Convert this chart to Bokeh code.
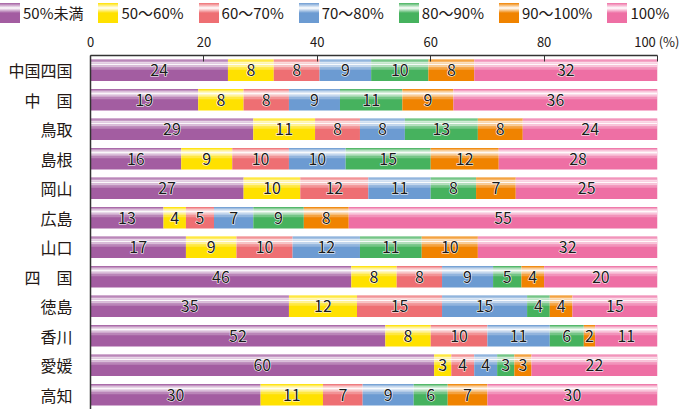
from bokeh.plotting import figure
from bokeh.layouts import column
from bokeh.models import FactorRange, ColumnDataSource, FixedTicker, Div
from bokeh.transform import dodge
from bokeh.core.properties import value
from bokeh.embed import file_html
from bokeh.resources import INLINE

rows = ["中国四国", "中　国", "鳥取", "島根", "岡山", "広島", "山口",
        "四　国", "徳島", "香川", "愛媛", "高知"]
series_names = ["50%未満", "50〜60%", "60〜70%", "70〜80%", "80〜90%", "90〜100%", "100%"]
s_lt50 = [24, 19, 29, 16, 27, 13, 17, 46, 35, 52, 60, 30]
s_50_60 = [8, 8, 11, 9, 10, 4, 9, 8, 12, 8, 3, 11]
s_60_70 = [8, 8, 8, 10, 12, 5, 10, 8, 15, 10, 4, 7]
s_70_80 = [9, 9, 8, 10, 11, 7, 12, 9, 15, 11, 4, 9]
s_80_90 = [10, 11, 13, 15, 8, 9, 11, 5, 4, 6, 3, 6]
s_90_100 = [8, 9, 8, 12, 7, 8, 10, 4, 4, 2, 3, 7]
s_100 = [32, 36, 24, 28, 25, 55, 32, 20, 15, 11, 22, 30]
x_ticks = [0, 20, 40, 60, 80, 100]
x_tick_labels = ["0", "20", "40", "60", "80", "100 (%)"]

series = [s_lt50, s_50_60, s_60_70, s_70_80, s_80_90, s_90_100, s_100]
colors = ["#A35DA1", "#FFE100", "#EE6F73", "#6C9BD2", "#46B25E", "#F08300", "#EE6FA4"]

FONT = "Noto Sans CJK JP"
TXT = "#231815"
BAR_H = 0.73
W = 679
LEG_H = 28

p = figure(width=W, height=409 - LEG_H, output_backend="svg", toolbar_location=None,
           y_range=FactorRange(*rows[::-1], range_padding=0),
           x_range=(0, 100), x_axis_location="above",
           min_border_left=90, min_border_right=22, min_border_top=54 - LEG_H,
           min_border_bottom=0)
p.outline_line_color = None
p.xgrid.visible = False
p.ygrid.visible = False

totals = [sum(s[i] for s in series) for i in range(len(rows))]
left = [0.0] * len(rows)
label_x, label_y, label_t = [], [], []
for name, s, c in zip(series_names, series, colors):
    lft = list(left)
    rgt = [l + v * 100.0 / t for l, v, t in zip(lft, s, totals)]
    src = ColumnDataSource(dict(y=rows, left=lft, right=rgt))
    p.hbar(y="y", left="left", right="right", height=BAR_H, source=src,
           fill_color=c, line_color=None)
    for i in range(len(rows)):
        label_x.append((lft[i] + rgt[i]) / 2)
        label_y.append(rows[i])
        label_t.append(str(s[i]))
    left = rgt

# glossy highlight across each bar
hl_src = ColumnDataSource(dict(y=rows, left=[0] * len(rows), right=left))
bands = [(0.04, 0.11, 0.35), (0.11, 0.19, 0.75), (0.19, 0.27, 0.95),
         (0.27, 0.36, 0.6), (0.36, 0.48, 0.25)]
for a, b, alpha in bands:
    center = BAR_H / 2 - (a + b) / 2 * BAR_H
    p.hbar(y=dodge("y", center, range=p.y_range), left="left", right="right",
           height=(b - a) * BAR_H, source=hl_src, fill_color="white",
           fill_alpha=alpha, line_color=None)

lab_src = ColumnDataSource(dict(x=label_x, y=label_y, t=label_t))
# white halo, then dark text on top
p.text(x="x", y="y", text="t", source=lab_src, text_align="center",
       text_baseline="middle", text_font=value(FONT), text_font_size="16px",
       text_color="white", text_outline_color="white")
p.text(x="x", y="y", text="t", source=lab_src, text_align="center",
       text_baseline="middle", text_font=value(FONT), text_font_size="16px",
       text_color="#1a1a1a")

xa = p.xaxis[0]
xa.ticker = FixedTicker(ticks=x_ticks)
xa.major_label_overrides = {t: l for t, l in zip(x_ticks, x_tick_labels)}
xa.minor_tick_line_color = None
xa.major_tick_in = 6
xa.major_tick_out = 0
xa.major_label_standoff = 5
xa.major_label_text_font = FONT
xa.major_label_text_font_size = "13px"
xa.major_label_text_color = TXT
xa.axis_line_color = "#333333"
xa.axis_line_width = 1.5
xa.major_tick_line_color = "#333333"

ya = p.yaxis[0]
ya.major_tick_line_color = None
ya.minor_tick_line_color = None
ya.major_label_standoff = 12
ya.major_label_text_font = FONT
ya.major_label_text_font_size = "16px"
ya.major_label_text_color = TXT
ya.axis_line_color = "#333333"
ya.axis_line_width = 1.5

# legend strip as HTML
items_html = []
for name, c in zip(series_names, colors):
    sw = (f'<span style="display:inline-block;width:20px;height:20px;margin-right:3px;'
          f'background:linear-gradient(to bottom,{c} 0%,#ffffff 25%,{c} 50%,{c} 100%);"></span>')
    items_html.append(f'<span style="display:inline-flex;align-items:center;margin-right:15px;">'
                      f'{sw}<span>{name}</span></span>')
legend_div = Div(text="".join(items_html), width=W, height=LEG_H,
                 styles={"font-family": FONT, "font-size": "15px", "color": TXT,
                         "white-space": "nowrap", "line-height": "20px",
                         "padding-top": "3px", "margin": "0"})

layout = column(legend_div, p, spacing=0)
open("out.html", "w").write(file_html(layout, INLINE))
